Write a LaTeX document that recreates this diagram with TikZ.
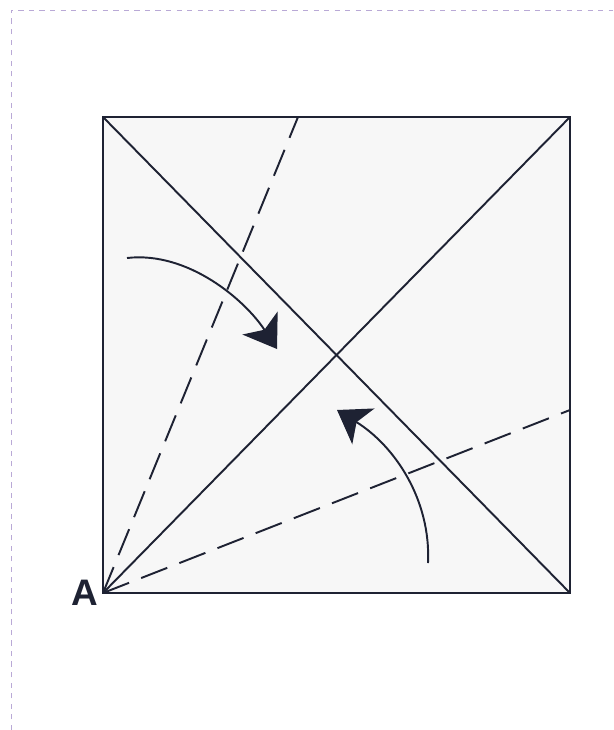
\documentclass[tikz,border=0pt]{standalone}
\usepackage{fontspec}
\setmainfont{Liberation Sans}
\usetikzlibrary{arrows.meta}
\definecolor{framepurple}{HTML}{B9A9D6}
\definecolor{inkblue}{HTML}{1E2233}

\begin{document}
\begin{tikzpicture}[
  x=0.02cm, y=-0.02cm,
  fold/.style={line width=1.1pt, inkblue},
  crease/.style={fold, dash pattern=on 0.56cm off 0.26cm},
  turn/.style={fold, -{Stealth[length=6.2mm, width=8.4mm, inset=1.6mm]}},
  lbl/.style={font=\fontsize{21}{24}\selectfont\bfseries, text=inkblue, inner sep=0pt}
]
\useasboundingbox (0,0) rectangle (613,730);
% page frame
\draw[framepurple, line width=0.5pt, dashed] (11,730) -- (11,10) -- (613,10);
% square
\coordinate (A) at (103,593);
\coordinate (tl) at (103,117);
\coordinate (tr) at (570,117);
\coordinate (br) at (570,593);
\fill[gray!6] (A) rectangle (tr);
\draw[fold, line width=1.3pt] (A) -- (tl) -- (tr) -- (br) -- cycle;
\draw[fold] (tl) -- (br);
\draw[fold] (A) -- (tr);
% creases
\coordinate (c1) at (298,117);
\coordinate (c2) at (570,410);
\draw[crease] (A) -- (c1);
\draw[crease] (A) -- (c2);
% fold arrows
\coordinate (s1) at (127,258);
\coordinate (e1) at (277,349);
\coordinate (s2) at (428,563);
\coordinate (e2) at (337,410);
\draw[turn] (s1) .. controls (188,251) and (245,300) .. (e1);
\draw[turn] (s2) .. controls (431,500) and (395,446) .. (e2);
\node[lbl] (a) at (85,593) {A};
\end{tikzpicture}
\end{document}
